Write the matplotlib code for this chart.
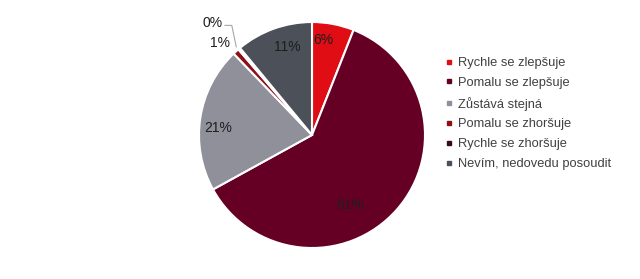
import matplotlib
matplotlib.use("Agg")
import matplotlib.pyplot as plt
from matplotlib.lines import Line2D

plt.rcParams['font.family'] = ['Liberation Sans', 'DejaVu Sans']

categories = ["Rychle se zlepšuje", "Pomalu se zlepšuje", "Zůstává stejná",
              "Pomalu se zhoršuje", "Rychle se zhoršuje", "Nevím, nedovedu posoudit"]
values = [6.0, 61.0, 20.8, 0.9, 0.3, 11.0]
labels = ["6%", "61%", "21%", "1%", "0%", "11%"]
colors = ["#e00d14", "#650024", "#8f9099", "#8c1016", "#3d0a12", "#4c5058"]

# label positions relative to pie centre, in units of radius
label_pos = [(0.10, 0.84), (0.34, -0.62), (-0.83, 0.06),
             (-0.81, 0.81), (-0.88, 0.99), (-0.22, 0.78)]

fig = plt.figure(figsize=(6.4, 2.79), dpi=100)
R = 113
cx, cy = 312, 279 - 135
ax = fig.add_axes([(cx - R) / 640, (cy - R) / 279, 2 * R / 640, 2 * R / 279])

ax.pie(values, colors=colors, startangle=90, counterclock=False,
       wedgeprops=dict(edgecolor="white", linewidth=1.5))
ax.set_xlim(-1, 1)
ax.set_ylim(-1, 1)
ax.set_aspect("equal")

for lab, (x, y) in zip(labels, label_pos):
    ax.text(x, y, lab, ha="center", va="center", fontsize=10, color="#1e1e1e")

# leader line for the 0% label
ax.plot([-0.77, -0.71, -0.67], [0.97, 0.97, 0.78], color="#a6a6a6", lw=0.8,
        clip_on=False)

handles = [Line2D([], [], marker="s", ls="none", color=c, markersize=3.5)
           for c in colors]
fig.legend(handles, categories, loc="upper left", bbox_to_anchor=(440 / 640, 1 - 52 / 279),
           frameon=False, fontsize=9.3, handlelength=0.6, handletextpad=0.4,
           labelspacing=0.6, labelcolor="#404040", borderaxespad=0)

fig.savefig("out.png", dpi=100)
